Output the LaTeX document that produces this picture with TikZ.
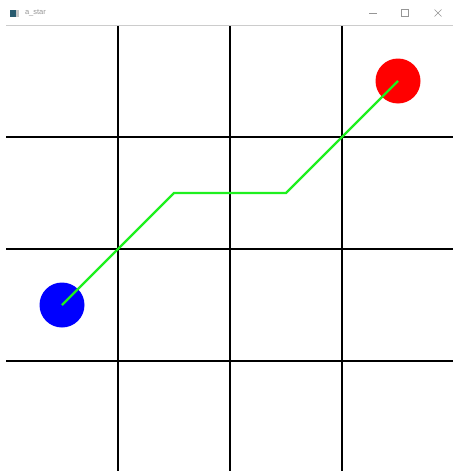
\documentclass[tikz,border=0pt]{standalone}
\usepackage{fontspec}
\setsansfont{Liberation Sans}
\definecolor{startcolor}{RGB}{0, 0, 255}
\definecolor{goalcolor}{RGB}{255, 0, 0}
\definecolor{pathcolor}{RGB}{30, 240, 30}
\definecolor{chromecolor}{RGB}{150, 150, 150}
\definecolor{iconcolor}{RGB}{40, 90, 110}
\tikzset{
  gridline/.style={line width=2pt, black},
  cellmark/.style={circle, inner sep=0pt, minimum size=45pt},
  pathline/.style={line width=2.4pt, color=pathcolor, line join=miter},
  winbtn/.style={line width=0.6pt, color=chromecolor}
}

\begin{document}
\begin{tikzpicture}[x=1pt, y=-1pt]

  % ── Canvas ─────────────────────────────────────────────────────
  \fill[white] (0,0) rectangle (453,471);
  \useasboundingbox (0,0) rectangle (453,471);

  % ── Title bar ──────────────────────────────────────────────────
  \fill[iconcolor] (10,10) rectangle (16,17);
  \fill[gray!45] (16,10) rectangle (19,17);
  \node[font=\sffamily\fontsize{7.5}{8}\selectfont, text=chromecolor,
        anchor=west] (title) at (21.5,13) {a\_star};
  \draw[winbtn] (369,13) -- (377,13);
  \draw[winbtn] (401.5,9.5) rectangle (408.5,16.5);
  \draw[winbtn] (434.5,9.5) -- (441.5,16.5);
  \draw[winbtn] (434.5,16.5) -- (441.5,9.5);
  \draw[line width=1pt, gray!40] (6,25) -- (453,25);

  % ── Grid (cell = 112px) ────────────────────────────────────────
  \foreach \i in {1,2,3} {
    \draw[gridline] (6+112*\i,26) -- (6+112*\i,471);
    \draw[gridline] (6,25+112*\i) -- (453,25+112*\i);
  }

  % ── Start and goal ─────────────────────────────────────────────
  \node[cellmark, fill=startcolor] (start) at (62,305) {};
  \node[cellmark, fill=goalcolor] (goal) at (398,81) {};

  % ── Path ───────────────────────────────────────────────────────
  \coordinate (p1) at (174,193);
  \coordinate (p2) at (286,193);
  \draw[pathline] (start.center) -- (p1) -- (p2) -- (goal.center);

\end{tikzpicture}
\end{document}
